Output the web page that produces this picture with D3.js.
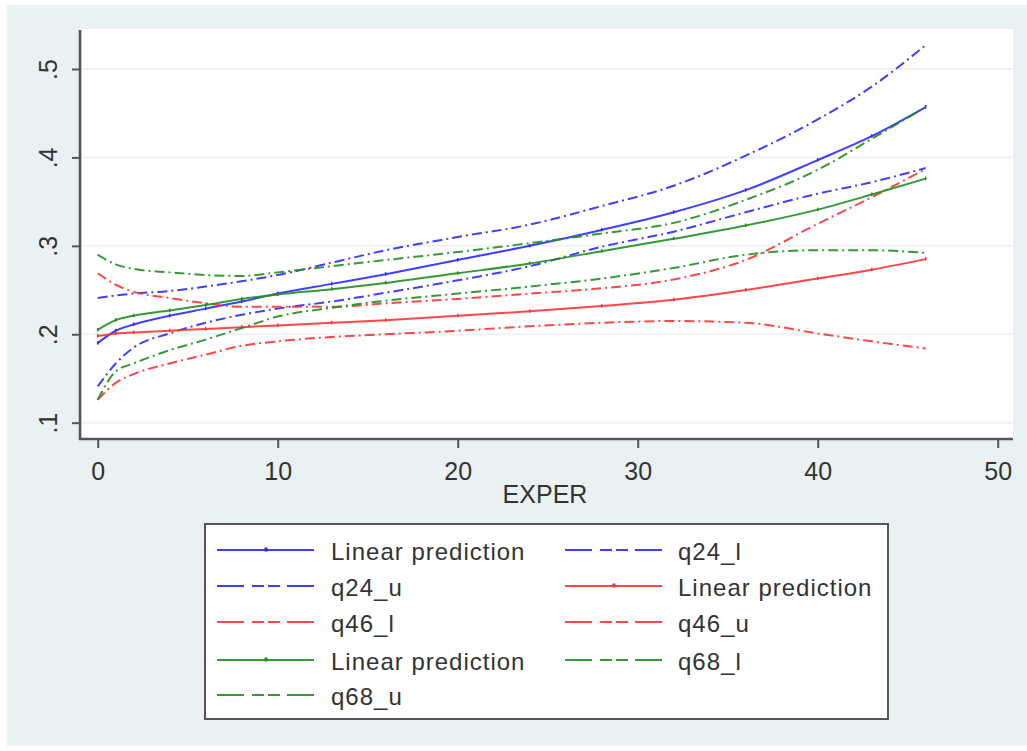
<!DOCTYPE html>
<html>
<head>
<meta charset="utf-8">
<script src="https://cdn.jsdelivr.net/npm/d3@7"></script>
<style>
  html, body { margin: 0; padding: 0; background: #ffffff; }
  svg { display: block; }
  text { font-family: "Liberation Sans", Arial, sans-serif; fill: #333; }
</style>
</head>
<body>
<svg id="chart" width="1027" height="751"></svg>
<script>
// Experience values at which the predictions are evaluated
const exper = [0, 1, 2, 4, 6, 8, 10, 13, 16, 20, 24, 28, 32, 36, 40, 43, 46];

// Quantile group 2-4
const lp24  = [0.190, 0.204, 0.211, 0.221, 0.229, 0.237, 0.246, 0.257, 0.268, 0.284, 0.300, 0.318, 0.338, 0.363, 0.397, 0.424, 0.457];
const q24_l = [0.141, 0.167, 0.185, 0.201, 0.213, 0.222, 0.229, 0.237, 0.247, 0.261, 0.277, 0.299, 0.316, 0.338, 0.359, 0.372, 0.388];
const q24_u = [0.241, 0.244, 0.246, 0.249, 0.254, 0.260, 0.267, 0.281, 0.295, 0.310, 0.324, 0.345, 0.368, 0.402, 0.443, 0.480, 0.527];

// Quantile group 4-6
const lp46  = [0.198, 0.201, 0.202, 0.204, 0.206, 0.208, 0.210, 0.213, 0.216, 0.221, 0.226, 0.232, 0.239, 0.250, 0.263, 0.273, 0.285];
const q46_l = [0.126, 0.145, 0.155, 0.167, 0.177, 0.187, 0.192, 0.197, 0.200, 0.204, 0.209, 0.213, 0.215, 0.213, 0.201, 0.192, 0.184];
const q46_u = [0.269, 0.256, 0.248, 0.241, 0.235, 0.231, 0.231, 0.231, 0.235, 0.240, 0.246, 0.252, 0.262, 0.284, 0.325, 0.355, 0.387];

// Quantile group 6-8
const lp68  = [0.205, 0.216, 0.221, 0.227, 0.233, 0.240, 0.245, 0.251, 0.258, 0.269, 0.280, 0.294, 0.308, 0.323, 0.341, 0.358, 0.376];
const q68_l = [0.126, 0.158, 0.167, 0.182, 0.194, 0.207, 0.220, 0.230, 0.238, 0.246, 0.254, 0.263, 0.275, 0.290, 0.295, 0.295, 0.292];
const q68_u = [0.290, 0.279, 0.274, 0.270, 0.267, 0.266, 0.270, 0.277, 0.284, 0.293, 0.303, 0.314, 0.326, 0.352, 0.386, 0.421, 0.457];

// Axis ticks
const xTicks = [0, 10, 20, 30, 40, 50];
const yTicks = [0.1, 0.2, 0.3, 0.4, 0.5];

const BLUE = "#2a2aff", RED = "#ff3333", GREEN = "#1f8f1f";

const series = [
  { label: "Linear prediction", values: lp24,  color: BLUE,  solid: true },
  { label: "q24_l",             values: q24_l, color: BLUE,  solid: false },
  { label: "q24_u",             values: q24_u, color: BLUE,  solid: false },
  { label: "Linear prediction", values: lp46,  color: RED,   solid: true },
  { label: "q46_l",             values: q46_l, color: RED,   solid: false },
  { label: "q46_u",             values: q46_u, color: RED,   solid: false },
  { label: "Linear prediction", values: lp68,  color: GREEN, solid: true },
  { label: "q68_l",             values: q68_l, color: GREEN, solid: false },
  { label: "q68_u",             values: q68_u, color: GREEN, solid: false }
];

const svg = d3.select("#chart");

// Outer graph region
svg.append("rect").attr("x", 7).attr("y", 5).attr("width", 1020).attr("height", 741)
  .attr("fill", "#e9f1f3");

// Plot region
const plot = { left: 82, right: 1013, top: 29, bottom: 438 };
svg.append("rect").attr("x", plot.left).attr("y", plot.top)
  .attr("width", plot.right - plot.left).attr("height", plot.bottom - plot.top)
  .attr("fill", "#ffffff");

const x = d3.scaleLinear().domain([0, 50]).range([97.7, 997.7]);
const y = d3.scaleLinear().domain([0.1, 0.5]).range([422.7, 69]);

// Horizontal grid lines
svg.append("g").selectAll("line").data(yTicks).join("line")
  .attr("x1", plot.left).attr("x2", plot.right)
  .attr("y1", d => y(d)).attr("y2", d => y(d))
  .attr("stroke", "#edf3f5").attr("stroke-width", 2);

// Y axis
const yAxis = svg.append("g").attr("transform", "translate(80,0)")
  .call(d3.axisLeft(y).tickValues(yTicks).tickSize(8)
    .tickFormat(d => "." + Math.round(d * 10)));
yAxis.select(".domain").remove();
yAxis.selectAll(".tick line").attr("stroke", "#555").attr("stroke-width", 2);
yAxis.selectAll(".tick text")
  .attr("x", 0).attr("y", 0).attr("dy", null)
  .attr("transform", "translate(-23,0) rotate(-90)")
  .attr("text-anchor", "middle")
  .style("font-size", "25px").style("font-family", "'Liberation Sans', Arial, sans-serif")
  .attr("fill", "#333");
svg.append("line").attr("x1", 80).attr("x2", 80).attr("y1", 30).attr("y2", 440)
  .attr("stroke", "#555").attr("stroke-width", 2.5);

// X axis
const xAxis = svg.append("g").attr("transform", "translate(0,439)")
  .call(d3.axisBottom(x).tickValues(xTicks).tickSize(9).tickFormat(d3.format("d")));
xAxis.select(".domain").remove();
xAxis.selectAll(".tick line").attr("stroke", "#555").attr("stroke-width", 2);
xAxis.selectAll(".tick text")
  .attr("y", 41).attr("dy", null)
  .style("font-size", "25px").style("font-family", "'Liberation Sans', Arial, sans-serif")
  .attr("fill", "#333");
svg.append("line").attr("x1", 79).attr("x2", 1013).attr("y1", 439).attr("y2", 439)
  .attr("stroke", "#555").attr("stroke-width", 2.5);

svg.append("text").attr("x", 545).attr("y", 503).attr("text-anchor", "middle")
  .style("font-size", "25px").text("EXPER");

// Prediction curves
const line = d3.line()
  .x((d, i) => x(exper[i]))
  .y(d => y(d))
  .curve(d3.curveMonotoneX);

const curves = svg.append("g");
series.forEach(s => {
  curves.append("path")
    .datum(s.values)
    .attr("d", line)
    .attr("fill", "none")
    .attr("stroke", s.color)
    .attr("stroke-width", 2)
    .attr("stroke-opacity", 0.9)
    .attr("stroke-dasharray", s.solid ? null : "10,4,2,4");
  if (s.solid) {
    curves.append("g").selectAll("rect").data(s.values).join("rect")
      .attr("x", (d, i) => x(exper[i]) - 0.75)
      .attr("y", d => y(d) - 2)
      .attr("width", 1.5).attr("height", 3.5)
      .attr("fill", s.color);
  }
});

// Legend
const legend = svg.append("g");
legend.append("rect").attr("x", 205).attr("y", 524).attr("width", 683).attr("height", 195)
  .attr("fill", "#ffffff").attr("stroke", "#555").attr("stroke-width", 2);

const cols = [{ x1: 217, x2: 314, tx: 331 }, { x1: 565, x2: 662, tx: 678 }];
const rowY = [550, 586, 622, 660, 695];

series.forEach((s, i) => {
  const c = cols[i % 2];
  const ry = rowY[Math.floor(i / 2)];
  legend.append("line")
    .attr("x1", c.x1).attr("x2", c.x2).attr("y1", ry).attr("y2", ry)
    .attr("stroke", s.color).attr("stroke-width", 2).attr("stroke-opacity", 0.9)
    .attr("stroke-dasharray", s.solid ? null : "27,8,12,4,12,7,28");
  if (s.solid) {
    legend.append("rect").attr("x", (c.x1 + c.x2) / 2 - 1).attr("y", ry - 2.5)
      .attr("width", 3).attr("height", 4).attr("fill", s.color);
  }
  legend.append("text").attr("x", c.tx).attr("y", ry + 10)
    .style("font-size", "24px").style("letter-spacing", "1px")
    .text(s.label);
});
</script>
</body>
</html>
